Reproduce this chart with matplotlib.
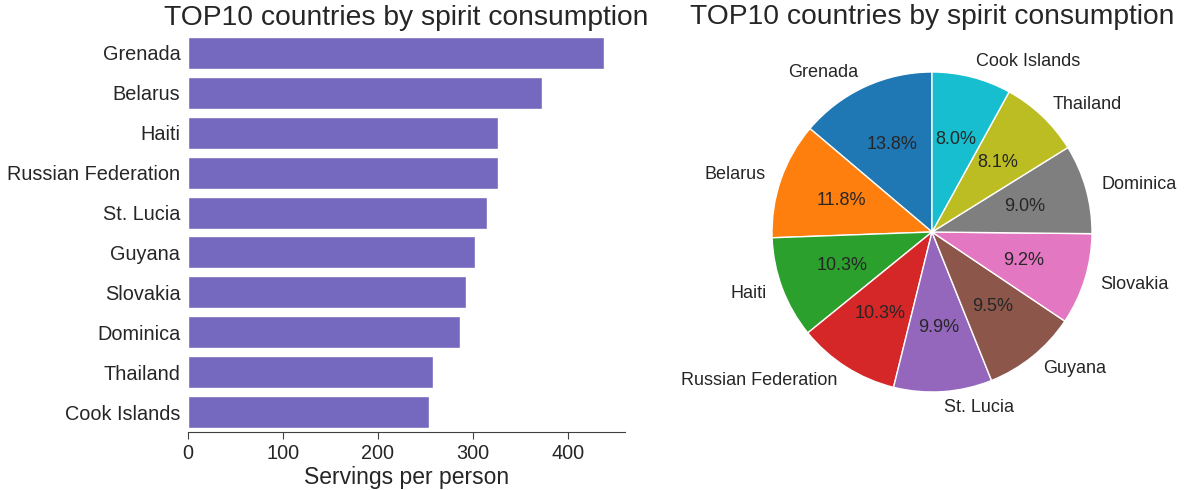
import matplotlib
matplotlib.use("Agg")
import matplotlib.pyplot as plt
import seaborn as sns

countries = ["Grenada", "Belarus", "Haiti", "Russian Federation", "St. Lucia",
             "Guyana", "Slovakia", "Dominica", "Thailand", "Cook Islands"]
spirit_servings = [438, 373, 326, 326, 315, 302, 293, 286, 258, 254]
pie_colors = ["#1f77b4", "#ff7f0e", "#2ca02c", "#d62728", "#9467bd",
              "#8c564b", "#e377c2", "#7f7f7f", "#bcbd22", "#17becf"]

sns.set_style("white")
plt.rcParams['font.family'] = ['Liberation Sans', 'DejaVu Sans']

fig = plt.figure(figsize=(11.84, 4.9), dpi=100)
ax1 = fig.add_axes([188 / 1184, 1 - 432 / 490, (625 - 188) / 1184, (432 - 33) / 490])
ax2 = fig.add_axes([(932 - 200) / 1184, 1 - 432 / 490, 400 / 1184, 400 / 490])

# barres horizontales
sns.barplot(x=spirit_servings, y=countries, color="slateblue", ax=ax1, orient="h")
ax1.set_title("TOP10 countries by spirit consumption", fontsize=20.3, color="#262626")
ax1.set_xlabel("Servings per person", fontsize=16.5, color="#262626", labelpad=2)
ax1.set_ylabel("")
ax1.tick_params(axis="both", labelsize=14.3, colors="#262626")
ax1.tick_params(axis="y", pad=2)
ax1.tick_params(axis="x", bottom=True, length=5, color="#404040")
ax1.set_xlim(0, 460)
ax1.set_xticks([0, 100, 200, 300, 400])
sns.despine(ax=ax1, left=True)
ax1.spines["bottom"].set_color("#404040")

# camembert
ax2.pie(spirit_servings, labels=countries, colors=pie_colors, autopct="%1.1f%%",
        startangle=90, wedgeprops={"edgecolor": "white", "linewidth": 1},
        textprops={"fontsize": 13, "color": "#262626"})
ax2.set_title("TOP10 countries by spirit consumption", fontsize=20.3, color="#262626")
ax2.set_aspect("equal")

fig.savefig("out.png", dpi=100)
